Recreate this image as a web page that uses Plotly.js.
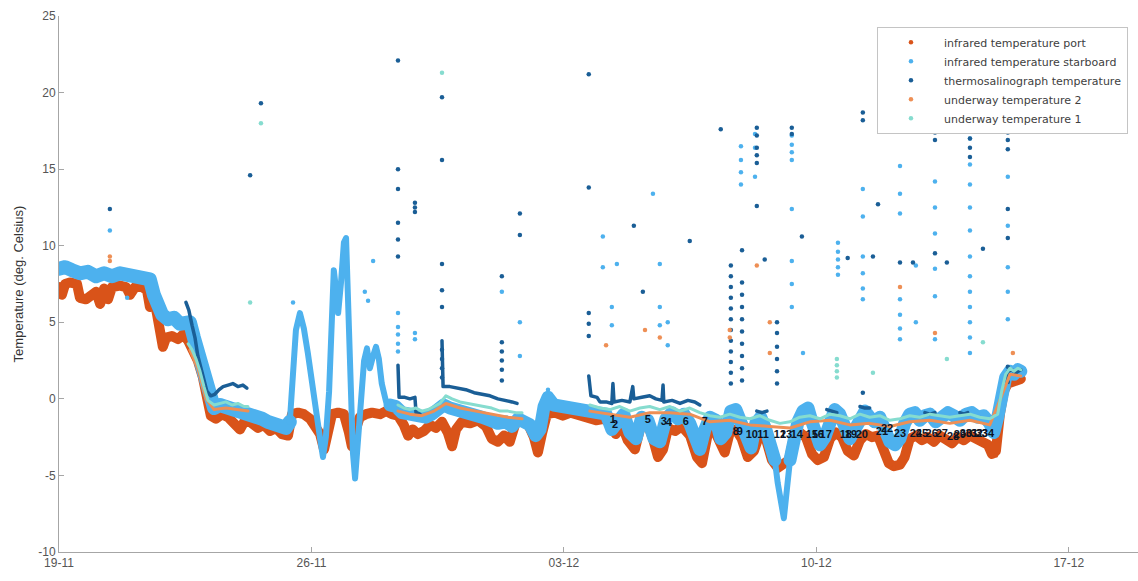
<!DOCTYPE html>
<html>
<head>
<meta charset="utf-8">
<script src="https://cdn.plot.ly/plotly-3.0.1.min.js"></script>
<style>
  html, body { margin: 0; padding: 0; background: #ffffff; }
  #chart { width: 1138px; height: 581px; }
  #chart path.js-line { stroke-linejoin: round; stroke-linecap: round; }
</style>
</head>
<body>
<div id="chart"></div>
<script>
// Time is given in days after 19 Nov 00:00, temperatures in deg. Celsius.

// Infrared temperature, port side
const portDay = [
  0.00,0.08,0.17,0.30,0.50,0.58,0.75,0.91,1.03,1.14,
  1.25,1.36,1.47,1.69,1.86,1.97,2.11,2.30,2.44,2.52,
  2.61,2.72,2.80,2.88,2.97,3.13,3.30,3.44,3.58,3.72,
  3.85,3.99,4.10,4.21,4.35,4.52,4.69,4.85,5.02,5.18,
  5.35,5.52,5.68,5.85,6.02,6.18,6.35,6.46,6.63,6.79,
  6.96,7.13,7.24,7.35,7.46,7.57,7.74,7.90,8.04,8.12,
  8.23,8.34,8.51,8.68,8.90,9.07,9.23,9.40,9.56,9.68,
  9.81,9.95,10.12,10.29,10.45,10.62,10.78,10.90,11.01,11.17,
  11.40,11.62,11.84,12.00,12.17,12.34,12.50,12.67,12.84,13.00,
  13.17,13.28,13.39,13.53,13.75,13.97,14.19,14.44,14.67,14.89,
  15.11,15.28,15.44,15.61,15.77,15.97,16.14,16.30,16.47,16.61,
  16.75,16.89,17.08,17.27,17.50,17.69,17.83,17.99,18.16,18.33,
  18.46,18.60,18.77,18.93,19.10,19.27,19.43,19.60,19.77,19.93,
  20.10,20.24,20.38,20.54,20.71,20.88,21.04,21.21,21.38,21.54,
  21.71,21.87,22.04,22.21,22.37,22.54,22.71,22.87,23.01,23.15,
  23.32,23.45,23.59,23.76,23.93,24.09,24.26,24.42,24.59,24.76,
  24.92,25.09,25.26,25.42,25.59,25.76,25.87,25.98,26.09,26.20,
  26.31,26.45,26.59,26.67
];
const portTemp = [
  7.3,6.8,7.5,7.6,7.5,6.6,6.5,6.8,7.0,6.2,
  7.2,6.5,7.3,7.4,7.3,6.8,7.3,7.3,7.1,6.0,
  6.8,5.5,4.2,3.4,4.0,4.1,3.9,4.2,3.8,3.2,
  2.5,1.4,0.0,-1.1,-1.3,-1.0,-1.2,-1.5,-2.0,-1.3,
  -1.6,-1.9,-1.7,-2.1,-1.9,-2.3,-2.4,-1.0,-0.9,-1.0,
  -1.3,-1.9,-2.3,-3.3,-2.3,-1.0,-0.9,-1.0,-2.2,-3.1,
  -2.0,-1.2,-1.0,-0.9,-1.0,-0.8,-1.0,-1.1,-1.7,-2.4,
  -2.0,-2.3,-2.1,-1.7,-1.9,-1.5,-2.2,-3.1,-2.0,-1.5,
  -1.6,-1.4,-1.8,-2.6,-2.8,-2.4,-2.8,-1.5,-1.4,-1.6,
  -2.5,-3.5,-2.3,-1.0,-0.9,-1.1,-0.9,-1.1,-1.3,-1.4,
  -1.3,-1.6,-2.3,-1.7,-2.7,-3.3,-1.7,-1.5,-2.6,-3.8,
  -3.3,-1.9,-2.1,-1.8,-2.4,-3.8,-4.2,-2.3,-2.0,-2.8,
  -3.5,-2.2,-2.0,-2.6,-3.8,-3.4,-2.3,-2.6,-4.0,-4.5,
  -4.2,-4.0,-2.5,-2.2,-2.5,-3.6,-4.0,-3.8,-2.6,-2.2,
  -2.5,-3.4,-3.7,-2.7,-2.3,-2.5,-2.4,-3.2,-4.2,-4.4,
  -4.3,-3.8,-2.6,-2.4,-2.7,-2.5,-2.8,-2.4,-2.6,-2.9,
  -2.5,-2.7,-2.4,-2.6,-2.8,-3.0,-3.6,-3.4,-1.0,0.5,
  1.0,1.1,1.2,1.3
];
// Lowest port readings in the cold dips
const portDipDay  = [7.35, 8.12, 10.90, 13.28, 15.97, 16.61, 17.83, 19.10, 19.93, 21.04, 23.15, 25.98];
const portDipTemp = [-3.4, -3.2, -3.2, -3.6, -3.4, -3.9, -4.3, -3.9, -4.6, -4.1, -4.5, -3.7];

// Infrared temperature, starboard side
const starDay = [
  0.00,0.17,0.36,0.58,0.80,1.03,1.25,1.47,1.69,1.91,
  2.13,2.36,2.52,2.63,2.74,2.86,3.02,3.19,3.35,3.52,
  3.63,3.74,3.85,3.96,4.08,4.19,4.30,4.46,4.63,4.80,
  4.96,5.13,5.30,5.46,5.63,5.79,5.96,6.13,6.29,6.40,
  6.49,6.57,6.68,6.79,6.90,7.01,7.13,7.24,7.32,7.40,
  7.49,7.57,7.62,7.68,7.74,7.82,7.90,7.96,8.01,8.10,
  8.15,8.21,8.29,8.37,8.46,8.54,8.62,8.71,8.79,8.87,
  8.95,9.07,9.18,9.34,9.51,9.68,9.84,10.01,10.17,10.34,
  10.51,10.67,10.84,11.06,11.28,11.51,11.73,11.95,12.17,12.39,
  12.56,12.73,12.89,13.06,13.22,13.34,13.45,13.56,13.72,13.95,
  14.17,14.39,14.61,14.83,15.00,15.17,15.33,15.50,15.66,15.83,
  16.00,16.16,16.33,16.50,16.66,16.83,17.00,17.16,17.33,17.49,
  17.66,17.77,17.91,18.05,18.22,18.35,18.49,18.63,18.77,18.91,
  19.05,19.19,19.32,19.46,19.60,19.74,19.85,19.93,20.02,20.10,
  20.18,20.27,20.38,20.49,20.63,20.77,20.88,20.99,21.10,21.24,
  21.38,21.51,21.65,21.79,21.93,22.07,22.21,22.35,22.48,22.62,
  22.76,22.90,23.04,23.18,23.32,23.45,23.59,23.73,23.87,24.01,
  24.15,24.31,24.48,24.65,24.81,24.98,25.15,25.31,25.48,25.64,
  25.81,25.92,26.03,26.14,26.25,26.37,26.48,26.59,26.67
];
const starTemp = [
  8.5,8.6,8.4,8.2,8.3,8.0,8.2,8.0,8.2,8.1,
  7.9,7.9,7.8,6.8,6.0,5.5,5.2,5.3,4.9,5.1,
  5.0,4.0,3.0,1.8,0.6,-0.4,-0.6,-0.4,-0.5,-0.6,
  -0.8,-0.9,-1.0,-1.2,-1.3,-1.5,-1.7,-1.8,-1.9,-1.5,
  2.0,4.5,5.6,4.6,3.0,1.0,-0.8,-2.6,-3.8,-2.5,
  0.5,5.0,8.4,7.2,5.6,7.6,10.2,10.5,6.0,-0.5,
  -3.5,-5.2,-3.0,0.0,2.5,3.3,2.0,2.8,3.4,2.6,
  1.0,-0.2,-0.4,-0.5,-0.9,-1.0,-1.1,-1.3,-1.2,-1.0,
  -0.8,-0.4,-0.6,-0.7,-0.9,-1.0,-1.2,-1.4,-1.6,-1.5,
  -1.8,-1.3,-1.4,-1.7,-2.4,-2.0,-0.5,0.1,-0.4,-0.5,
  -0.4,-0.6,-0.6,-0.8,-0.8,-1.0,-2.0,-1.3,-1.0,-2.2,
  -2.6,-1.2,-1.4,-2.6,-2.8,-1.3,-0.9,-1.3,-1.0,-1.6,
  -3.0,-3.3,-2.0,-1.2,-1.4,-2.6,-2.2,-0.8,-0.7,-1.6,
  -2.8,-3.2,-1.6,-1.2,-2.0,-3.0,-4.0,-5.5,-7.0,-7.8,
  -6.0,-4.0,-2.5,-1.5,-0.8,-0.6,-1.5,-2.6,-3.0,-2.5,
  -1.4,-0.7,-1.0,-2.0,-2.6,-2.0,-1.2,-0.8,-1.2,-1.5,
  -1.2,-2.0,-2.8,-3.0,-2.6,-1.6,-1.0,-0.9,-1.4,-1.1,
  -1.0,-1.5,-1.2,-0.9,-1.1,-1.4,-1.0,-0.9,-1.2,-1.1,
  -1.6,-2.2,-1.2,0.2,1.4,1.8,1.6,1.9,1.8
];
// Isolated starboard readings (spikes)
const starOutDay = [
  1.41, 1.89, 6.49,
  8.48, 8.57, 8.71,
  9.40, 9.40, 9.40, 9.40, 9.40,
  9.87, 9.87,
  12.28, 12.78, 12.78, 13.56,
  15.08, 15.08, 15.33, 15.33, 15.47,
  16.47, 16.66, 16.66, 16.66, 16.88, 16.88,
  18.91, 18.91, 18.91, 18.91,
  19.30, 19.30, 19.30,
  20.32, 20.32, 20.32, 20.32, 20.32, 20.32, 20.32, 20.32, 20.63,
  21.60, 21.60, 21.60, 21.60, 21.60,
  22.29, 22.29, 22.29, 22.29, 22.29, 22.29,
  23.32, 23.32, 23.32, 23.32, 23.32, 23.32, 23.32, 23.76, 23.76,
  24.29, 24.29, 24.29, 24.29, 24.29, 24.29,
  25.26, 25.26, 25.26, 25.26, 25.26, 25.26, 25.26, 25.26, 25.26, 25.26, 25.26, 25.26,
  26.31, 26.31, 26.31, 26.31, 26.31
];
const starOutTemp = [
  11.0, 6.6, 6.3,
  7.0, 6.4, 9.0,
  5.6, 4.7, 4.2, 3.6, 3.1,
  4.3, 3.9,
  7.0, 5.0, 2.8, 0.6,
  10.6, 8.6, 6.0, 4.8, 8.8,
  13.4, 8.8, 6.0, 4.8, 5.0, 3.5,
  16.5, 15.6, 14.8, 14.0,
  17.3, 16.4, 14.5,
  17.2, 16.6, 16.1, 15.6, 12.4, 9.0, 7.5, 6.0, 3.0,
  10.2, 9.6, 9.1, 8.6, 8.1,
  13.7, 11.9, 9.3, 8.2, 7.2, 6.5,
  15.2, 13.4, 12.1, 6.5, 5.5, 4.6, 3.9, 8.7, 5.0,
  14.2, 12.5, 10.8, 8.5, 6.7, 3.9,
  17.0, 15.3, 14.0, 12.5, 11.0, 9.3, 8.0, 7.0, 6.0, 5.0, 4.0, 3.0,
  14.5, 11.3, 8.6, 7.0, 5.2
];

// Thermosalinograph temperature (null = no record)
const tsgDay = [
  3.52,3.60,3.69,3.77,3.85,3.94,4.02,4.10,4.21,4.32,4.44,4.55,4.69,4.82,4.96,5.10,5.21,null,
  9.40,9.43,9.59,9.73,9.87,9.90,10.01,null,
  10.62,10.65,10.84,11.06,11.28,11.51,11.73,11.95,12.17,12.39,12.56,12.70,null,
  14.69,14.75,14.92,15.00,15.17,15.33,15.36,15.39,15.61,15.83,15.91,15.94,16.16,16.38,16.55,16.72,16.75,16.77,17.00,17.22,17.44,17.63,17.77,null,
  19.35,19.49,19.63,null,
  21.29,21.43,21.57,null,
  22.21,22.35,22.48,null,
  24.01,24.15,24.29,null,
  24.98,25.09,25.20,null,
  26.20,26.31,26.42,26.53,26.67
];
const tsgTemp = [
  6.3,5.8,4.8,4.0,2.8,2.0,1.2,0.5,0.2,0.3,0.6,0.8,0.9,1.0,0.8,0.9,0.7,null,
  2.2,0.1,0.1,0.0,0.1,-0.9,-1.0,null,
  3.8,0.8,0.8,0.7,0.6,0.4,0.3,0.2,0.0,-0.1,-0.2,-0.3,null,
  1.5,0.2,0.1,-0.2,-0.2,-0.3,1.0,-0.2,-0.1,-0.2,0.8,0.0,0.1,0.2,0.0,-0.1,0.9,-0.2,-0.1,-0.3,-0.1,-0.2,-0.4,null,
  -0.8,-0.9,-0.8,null,
  -0.7,-0.8,-0.9,null,
  -0.5,-0.6,-0.6,null,
  -0.9,-1.0,-0.9,null,
  -0.9,-1.0,-0.9,null,
  0.8,1.8,1.9,1.7,1.9
];
const tsgOutDay = [
  1.41, 5.30, 5.60,
  9.40, 9.40, 9.40, 9.40, 9.40, 9.40,
  9.87, 9.87, 9.87,
  10.62, 10.62, 10.62, 10.62, 10.62, 10.62, 10.62, 10.62, 10.62,
  12.28, 12.28, 12.28, 12.28, 12.28, 12.28,
  12.78, 12.78,
  14.69, 14.69, 14.69, 14.69, 14.69,
  15.94, 16.19, 17.49, 18.35,
  18.63, 18.63, 18.63, 18.63, 18.63, 18.63, 18.63, 18.63, 18.63, 18.63, 18.63, 18.63,
  18.94, 18.94, 18.94, 18.94, 18.94, 18.94, 18.94, 18.94, 18.94, 18.94,
  19.35, 19.35, 19.35, 19.35, 19.35, 19.35,
  19.57,
  19.91, 19.91, 19.91, 19.91, 19.91, 19.91,
  20.32, 20.32, 20.60, 21.87,
  22.29, 22.29, 22.29,
  22.57, 22.71,
  23.32, 23.32, 23.32, 23.68,
  24.29, 24.29, 24.29, 24.29, 24.62,
  25.26, 25.26, 25.26, 25.26, 25.26, 25.62,
  26.31, 26.31, 26.31, 26.31, 26.31, 26.31, 26.31, 26.31
];
const tsgOutTemp = [
  12.4, 14.6, 19.3,
  22.1, 15.0, 13.7, 11.5, 10.4, 9.3,
  12.8, 12.5, 12.2,
  19.7, 15.6, 8.8, 7.1, 6.0, 3.2, 2.6, 2.0, 1.4,
  8.0, 3.7, 3.1, 2.5, 1.9, 1.2,
  12.1, 10.7,
  21.2, 13.8, 5.6, 4.9, 4.1,
  11.3, 7.0, 10.3, 17.6,
  8.7, 8.0, 7.3, 6.6, 5.9, 5.2, 4.5, 3.8, 3.1, 2.4, 1.7, 1.0,
  9.7, 7.6, 6.8, 6.0, 5.2, 4.4, 3.6, 2.8, 2.0, 1.2,
  17.7, 17.2, 16.4, 15.9, 15.4, 12.6,
  9.1,
  5.0, 4.3, 3.4, 2.6, 1.8, 1.0,
  17.7, 17.3, 10.6, 9.2,
  18.7, 18.2, 0.4,
  9.3, 12.7,
  18.4, 17.8, 8.9, 8.9,
  17.8, 17.4, 16.9, 9.5, 8.9,
  18.2, 17.6, 17.0, 16.4, 15.8, 9.8,
  17.4, 16.9, 16.3, 12.4, 10.5, 2.1, 1.6, 1.1
];

// Underway temperature 2
const uw2Day = [
  3.63,3.85,4.08,4.30,4.63,4.96,5.24,null,
  9.40,9.73,10.06,10.40,10.73,11.12,11.56,12.00,12.45,12.84,null,
  14.72,15.28,15.83,16.38,16.94,17.49,18.05,18.60,19.16,19.71,20.27,20.82,21.38,21.93,22.48,23.04,23.59,24.15,24.70,25.26,25.81,26.14,26.37,26.67
];
const uw2Temp = [
  3.2,2.0,0.0,-0.7,-0.6,-0.7,-0.8,null,
  -0.8,-1.0,-1.1,-0.8,-0.3,-0.6,-0.8,-1.0,-1.2,-1.3,null,
  -0.8,-1.0,-1.2,-0.9,-0.9,-1.0,-1.5,-1.4,-1.7,-1.8,-1.9,-1.5,-1.4,-1.7,-1.6,-1.8,-1.5,-1.4,-1.6,-1.4,-1.7,0.2,1.6,1.5
];
const uw2OutDay  = [1.41, 1.41, 15.17, 16.25, 16.66, 18.60, 18.60, 19.35, 19.71, 19.71, 23.32, 24.29, 26.45];
const uw2OutTemp = [9.3, 9.0, 3.5, 4.5, 4.0, 4.5, 4.0, 8.7, 5.0, 3.0, 7.3, 4.3, 3.0];

// Underway temperature 1
const uw1Day = [
  3.58,3.69,3.80,3.91,4.02,4.13,4.30,4.46,4.63,4.80,4.96,5.13,5.24,null,
  9.40,9.56,9.73,9.90,10.06,10.23,10.40,10.56,10.73,10.90,11.12,11.34,11.56,11.78,12.00,12.23,12.45,12.67,12.84,null,
  14.72,15.00,15.28,15.55,15.83,16.11,16.38,16.66,16.94,17.22,17.49,17.77,18.05,18.33,18.60,18.88,19.16,19.43,19.71,19.99,
  20.27,20.54,20.82,21.10,21.38,21.65,21.93,22.21,22.48,22.76,23.04,23.32,23.59,23.87,24.15,24.42,24.70,24.98,25.26,25.53,
  25.81,26.03,26.14,26.25,26.37,26.48,26.59,26.67
];
const uw1Temp = [
  3.6,3.2,2.6,1.8,0.8,-0.1,-0.4,-0.3,-0.2,-0.4,-0.3,-0.5,-0.5,null,
  -0.4,-0.6,-0.7,-0.6,-0.8,-0.7,-0.5,-0.3,0.2,0.0,-0.2,-0.3,-0.4,-0.5,-0.6,-0.8,-0.8,-0.9,-0.9,null,
  -0.4,-0.6,-0.7,-0.5,-0.8,-0.6,-0.5,-0.7,-0.5,-0.8,-0.6,-0.9,-1.1,-1.2,-1.0,-1.2,-1.3,-1.1,-1.4,-1.6,
  -1.5,-1.2,-1.1,-1.3,-1.0,-1.1,-1.3,-1.0,-1.2,-1.1,-1.4,-1.3,-1.1,-1.2,-1.0,-1.1,-1.2,-1.1,-1.0,-1.2,
  -1.3,-1.0,0.5,1.6,2.0,1.8,2.0,1.9
];
const uw1OutDay  = [5.30, 5.60, 10.62, 21.57, 21.57, 21.57, 21.57, 22.57, 24.62, 25.62];
const uw1OutTemp = [6.3, 18.0, 21.3, 2.6, 2.2, 1.8, 1.4, 1.7, 2.6, 3.7];

// Station numbers along the track
const stationNo = ['1','2','3','4','5','6','7','8','9','10','11','12','13','14','15','16','17',
                   '18','19','20','21','22','23','24','25','26','27','28','29','30','31','32','33','34'];
const stationDay = [15.36,15.42,16.77,16.91,16.33,17.38,17.91,18.77,18.88,19.21,19.52,19.99,20.16,20.46,20.88,21.04,21.26,
                    21.82,21.96,22.26,22.82,22.96,23.32,23.76,23.93,24.20,24.48,24.79,24.98,25.15,25.31,25.45,25.59,25.76];
const stationTemp = [-1.4,-1.7,-1.55,-1.6,-1.4,-1.55,-1.5,-2.15,-2.2,-2.35,-2.35,-2.35,-2.35,-2.35,-2.35,-2.35,-2.35,
                     -2.35,-2.35,-2.35,-2.15,-2.0,-2.3,-2.3,-2.3,-2.3,-2.3,-2.5,-2.4,-2.3,-2.3,-2.3,-2.3,-2.3];

// Axis ticks
const xTickDays = [0, 7, 14, 21, 28];
const xTickLabels = ['19-11', '26-11', '03-12', '10-12', '17-12'];
const yTicks = [-10, -5, 0, 5, 10, 15, 20, 25];

// ---- drawing ----
const BASE = Date.UTC(2018, 10, 19);
const toDate = d => (d === null ? null : BASE + d * 86400000);
const X = arr => arr.map(toDate);

const C = {
  port: '#D95319',
  star: '#4DB1EE',
  tsg:  '#1A5E96',
  uw2:  '#EE8F55',
  uw1:  '#86DCCF'
};
const FONT = 'Liberation Sans, Arial, Helvetica, sans-serif';
const DOT = 4.5;

function band(day, temp, color, width, group) {
  return { type: 'scatter', mode: 'lines', x: X(day), y: temp, connectgaps: false,
           line: { color: color, width: width }, showlegend: false, legendgroup: group, hoverinfo: 'skip' };
}
function dots(day, temp, color, name, group) {
  return { type: 'scatter', mode: 'markers', x: X(day), y: temp, name: name, legendgroup: group,
           marker: { color: color, size: DOT }, hoverinfo: 'skip' };
}
// starboard record drawn piecewise: a wide scatter band while steady, a thin trace through fast swings
function starPiece(i0, i1, width) {
  return band(starDay.slice(i0, i1 + 1), starTemp.slice(i0, i1 + 1), C.star, width, 'star');
}

const traces = [
  band(portDay, portTemp, C.port, 10, 'port'),
  dots(portDipDay, portDipTemp, C.port, 'infrared temperature port', 'port'),
  starPiece(0, 39, 14),
  starPiece(39, 72, 6),
  starPiece(72, 136, 13),
  starPiece(135, 142, 6),
  starPiece(141, starDay.length - 1, 13),
  dots(starOutDay, starOutTemp, C.star, 'infrared temperature starboard', 'star'),
  band(tsgDay, tsgTemp, C.tsg, 3.5, 'tsg'),
  dots(tsgOutDay, tsgOutTemp, C.tsg, 'thermosalinograph temperature', 'tsg'),
  band(uw2Day, uw2Temp, C.uw2, 3, 'uw2'),
  dots(uw2OutDay, uw2OutTemp, C.uw2, 'underway temperature 2', 'uw2'),
  band(uw1Day, uw1Temp, C.uw1, 3, 'uw1'),
  dots(uw1OutDay, uw1OutTemp, C.uw1, 'underway temperature 1', 'uw1'),
  { type: 'scatter', mode: 'text', x: X(stationDay), y: stationTemp, text: stationNo,
    textposition: 'middle center', showlegend: false, hoverinfo: 'skip',
    textfont: { family: FONT, size: 11, color: '#0c1424', weight: 'bold' } }
];

const axisCommon = {
  showgrid: false, zeroline: false, showline: true, linecolor: '#a6a6a6', linewidth: 1,
  ticks: 'inside', ticklen: 5, tickcolor: '#a6a6a6', tickwidth: 1,
  tickfont: { family: FONT, size: 12, color: '#555555' }, fixedrange: true
};

const layout = {
  width: 1138, height: 581,
  margin: { l: 59, r: 0, t: 16, b: 29 },
  paper_bgcolor: '#ffffff', plot_bgcolor: '#ffffff',
  showlegend: true,
  legend: {
    x: 0.9907, xanchor: 'right', y: 0.98, yanchor: 'top',
    bgcolor: '#ffffff', bordercolor: '#c4c4c4', borderwidth: 1,
    font: { family: 'DejaVu Sans, Verdana, sans-serif', size: 11, color: '#404040' },
    itemwidth: 56, traceorder: 'normal', tracegroupgap: 0
  },
  xaxis: Object.assign({}, axisCommon, {
    type: 'date',
    range: [toDate(0), toDate(29.92)],
    tickmode: 'array', tickvals: X(xTickDays), ticktext: xTickLabels
  }),
  yaxis: Object.assign({}, axisCommon, {
    range: [-10, 25], tickmode: 'array', tickvals: yTicks, ticktext: yTicks.map(String),
    title: { text: 'Temperature (deg. Celsius)', font: { family: FONT, size: 13, color: '#333333' }, standoff: 11 }
  }),
  hovermode: false
};

Plotly.newPlot('chart', traces, layout, { displayModeBar: false, staticPlot: true });
</script>
</body>
</html>
